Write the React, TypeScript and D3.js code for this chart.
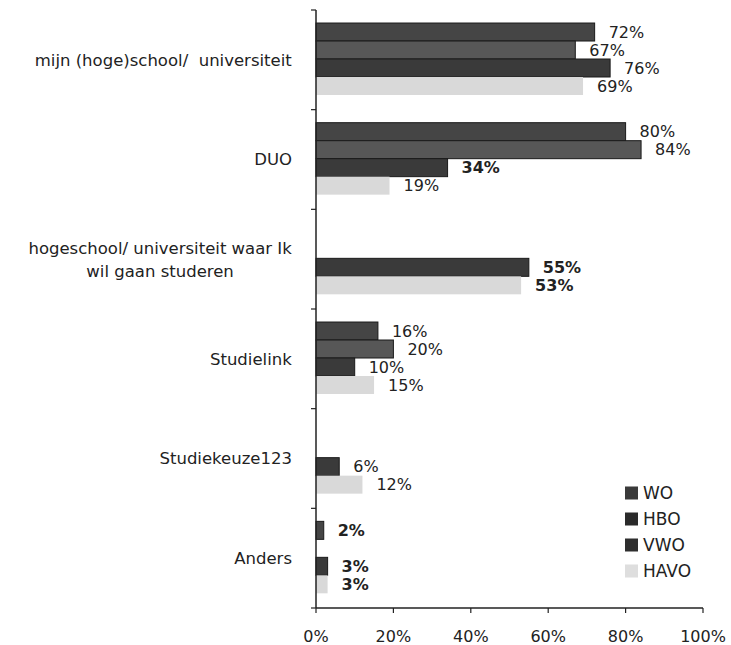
import React, { useEffect, useRef } from "react";
import * as d3 from "d3";

const categories = [
  "mijn (hoge)school/  universiteit",
  "DUO",
  "hogeschool/ universiteit waar Ik\nwil gaan studeren",
  "Studielink",
  "Studiekeuze123",
  "Anders",
];
const seriesNames = ["WO", "HBO", "VWO", "HAVO"];
const woValues: (number | null)[] = [72, 80, null, 16, null, 2];
const hboValues: (number | null)[] = [67, 84, null, 20, null, null];
const vwoValues: (number | null)[] = [76, 34, 55, 10, 6, 3];
const havoValues: (number | null)[] = [69, 19, 53, 15, 12, 3];
const xTicks = [0, 20, 40, 60, 80, 100];

// styling (kept apart from data)
const seriesColors = ["#454545", "#575757", "#3a3a3a", "#d9d9d9"];
const legendColors = ["#3a3a3a", "#2a2a2a", "#2e2e2e", "#dedede"];
const boldLabels = ["VWO|DUO", "VWO|hogeschool", "HAVO|hogeschool", "WO|Anders", "VWO|Anders", "HAVO|Anders"];

const W = 731;
const H = 645;
const FONT = "'DejaVu Sans', Verdana, sans-serif";

export default function App() {
  const ref = useRef<SVGSVGElement | null>(null);

  useEffect(() => {
    const svg = d3.select(ref.current);
    svg.selectAll("*").remove();

    const seriesValues = [woValues, hboValues, vwoValues, havoValues];
    const x = d3.scaleLinear().domain([0, 100]).range([316, 703]);
    const y = d3.scaleBand<string>().domain(categories).range([10, 608]).paddingInner(0).paddingOuter(0);
    const inner = d3
      .scaleBand<string>()
      .domain(seriesNames)
      .range([0, y.bandwidth()])
      .paddingInner(0)
      .paddingOuter(0.77)
      .align(0.47);

    const g = svg.append("g");

    // bars
    seriesNames.forEach((s, si) => {
      categories.forEach((c, ci) => {
        const v = seriesValues[si][ci];
        if (v == null) return;
        const y0 = (y(c) as number) + (inner(s) as number);
        const dark = si < 3;
        g.append("rect")
          .attr("x", x(0))
          .attr("y", y0)
          .attr("width", x(v) - x(0))
          .attr("height", inner.bandwidth())
          .attr("fill", seriesColors[si])
          .attr("stroke", dark ? "#1a1a1a" : "none")
          .attr("stroke-width", dark ? 1 : 0);
      });
    });

    // value labels
    seriesNames.forEach((s, si) => {
      categories.forEach((c, ci) => {
        const v = seriesValues[si][ci];
        if (v == null) return;
        const y0 = (y(c) as number) + (inner(s) as number) + inner.bandwidth() / 2;
        const key = s + "|" + c.split(/[ \n]/)[0].replace("/", "");
        const bold = boldLabels.includes(key);
        g.append("text")
          .attr("x", x(v) + 14)
          .attr("y", y0)
          .attr("dy", "0.36em")
          .attr("font-family", FONT)
          .attr("font-size", 16)
          .attr("font-weight", bold ? "bold" : "normal")
          .attr("fill", "#222")
          .text(`${v}%`);
      });
    });

    // axes
    const axisColor = "#222";
    g.append("line")
      .attr("x1", x(0)).attr("x2", x(0))
      .attr("y1", 10).attr("y2", 608)
      .attr("stroke", axisColor).attr("stroke-width", 1.5);
    g.append("line")
      .attr("x1", x(0)).attr("x2", x(100))
      .attr("y1", 608).attr("y2", 608)
      .attr("stroke", axisColor).attr("stroke-width", 1.5);

    const boundaries = categories.map((c) => y(c) as number).concat([608]);
    boundaries.forEach((b) => {
      g.append("line")
        .attr("x1", x(0) - 5).attr("x2", x(0))
        .attr("y1", b).attr("y2", b)
        .attr("stroke", axisColor).attr("stroke-width", 1.2);
    });

    xTicks.forEach((t) => {
      g.append("line")
        .attr("x1", x(t)).attr("x2", x(t))
        .attr("y1", 608).attr("y2", 613)
        .attr("stroke", axisColor).attr("stroke-width", 1.2);
      g.append("text")
        .attr("x", x(t))
        .attr("y", 636)
        .attr("dy", "0.36em")
        .attr("text-anchor", "middle")
        .attr("font-family", FONT)
        .attr("font-size", 16)
        .attr("fill", "#222")
        .text(`${t}%`);
    });

    // category labels
    const labelRight = 292;
    categories.forEach((c) => {
      const lines = c.split("\n");
      const cy = (y(c) as number) + y.bandwidth() / 2;
      const lh = 23;
      const t = g
        .append("text")
        .attr("font-family", FONT)
        .attr("font-size", 16.5)
        .attr("fill", "#222")
        .attr("text-anchor", "middle")
        .style("white-space", "pre");
      lines.forEach((ln, i) => {
        t.append("tspan")
          .attr("x", 0)
          .attr("y", cy + (i - (lines.length - 1) / 2) * lh)
          .attr("dy", "0.36em")
          .text(ln);
      });
      const node = t.node() as SVGTextElement;
      const bb = node.getBBox();
      t.selectAll("tspan").attr("x", labelRight - bb.width / 2);
    });

    // legend
    const legendY = d3.scalePoint<string>().domain(seriesNames).range([493, 571]);
    seriesNames.forEach((s, si) => {
      const cy = legendY(s) as number;
      g.append("rect")
        .attr("x", 625)
        .attr("y", cy - 6.5)
        .attr("width", 13)
        .attr("height", 13)
        .attr("fill", legendColors[si]);
      g.append("text")
        .attr("x", 643)
        .attr("y", cy)
        .attr("dy", "0.36em")
        .attr("font-family", FONT)
        .attr("font-size", 17)
        .attr("fill", "#222")
        .text(s);
    });
  }, []);

  return (
    <div style={{ position: "absolute", left: 0, top: 0, width: W, height: H, background: "#fff" }}>
      <svg ref={ref} width={W} height={H} style={{ display: "block", background: "#fff" }} />
    </div>
  );
}
